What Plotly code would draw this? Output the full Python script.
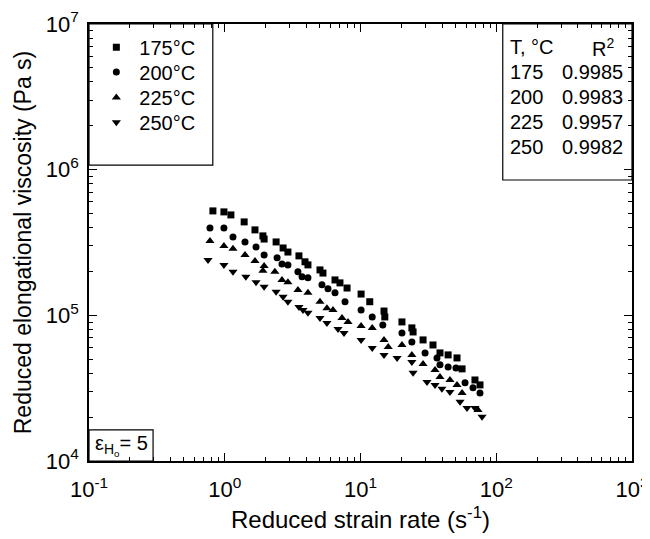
import plotly.graph_objects as go

# ---- data (reduced strain rate [1/s], reduced elongational viscosity [Pa s]) ----
x_175 = [0.818, 0.986, 1.11, 1.39, 1.67, 1.91, 1.95, 2.39, 2.69, 2.92, 3.52, 3.90, 4.10, 5.03, 5.29,
         6.49, 7.06, 7.96, 10.1, 11.7, 14.9, 15.1, 20.2, 23.9, 24.4, 28.9, 34.2, 38.5, 44.2, 51.4,
         56.0, 69.7, 75.9]
y_175 = [5.21e5, 5.13e5, 4.89e5, 4.38e5, 3.86e5, 3.51e5, 3.34e5, 3.19e5, 2.90e5, 2.72e5, 2.56e5, 2.33e5,
         2.22e5, 2.05e5, 1.95e5, 1.75e5, 1.67e5, 1.54e5, 1.40e5, 1.24e5, 1.07e5, 9.75e4, 9.01e4, 8.20e4,
         7.69e4, 6.78e4, 6.26e4, 5.52e4, 5.35e4, 5.10e4, 4.29e4, 3.60e4, 3.33e4]

x_200 = [0.778, 0.986, 1.15, 1.41, 1.70, 1.95, 2.43, 2.64, 2.92, 3.46, 3.71, 4.10, 5.20, 5.76, 6.49,
         7.69, 10.1, 12.2, 14.6, 20.2, 23.9, 29.9, 36.6, 38.5, 44.2, 50.5, 58.9, 67.4, 75.9]
y_200 = [3.98e5, 3.98e5, 3.45e5, 3.19e5, 2.95e5, 2.60e5, 2.48e5, 2.25e5, 2.22e5, 1.99e5, 1.84e5, 1.81e5,
         1.62e5, 1.52e5, 1.43e5, 1.24e5, 1.09e5, 9.75e4, 8.59e4, 7.57e4, 6.56e4, 5.52e4, 5.10e4, 4.57e4,
         4.42e4, 4.35e4, 3.44e4, 3.18e4, 2.93e4]

x_225 = [0.778, 0.986, 1.15, 1.41, 1.67, 1.95, 1.91, 2.34, 2.64, 2.92, 3.46, 4.10, 5.03, 5.66, 6.27,
         7.31, 8.09, 10.1, 12.2, 14.9, 16.0, 20.2, 23.9, 28.9, 35.4, 38.5, 45.6, 51.4, 56.0, 73.4]
y_225 = [3.24e5, 2.99e5, 2.86e5, 2.60e5, 2.36e5, 2.18e5, 2.02e5, 1.99e5, 1.75e5, 1.69e5, 1.49e5, 1.43e5,
         1.24e5, 1.12e5, 1.09e5, 9.60e4, 9.01e4, 8.45e4, 8.20e4, 6.78e4, 6.07e4, 6.26e4, 5.35e4, 4.63e4,
         4.22e4, 3.78e4, 3.60e4, 3.33e4, 2.93e4, 2.24e4]

x_250 = [0.753, 0.986, 1.15, 1.43, 1.70, 1.95, 2.39, 2.69, 2.92, 3.52, 3.77, 4.10, 5.03, 5.66, 6.83,
         7.56, 10.1, 12.2, 14.9, 18.6, 23.9, 24.4, 30.9, 35.4, 39.8, 45.6, 54.1, 60.9, 69.7, 78.6]
y_250 = [2.40e5, 2.22e5, 1.99e5, 1.84e5, 1.69e5, 1.57e5, 1.45e5, 1.34e5, 1.24e5, 1.14e5, 1.09e5, 1.04e5,
         9.60e4, 8.87e4, 8.07e4, 7.57e4, 6.78e4, 5.97e4, 5.35e4, 5.10e4, 4.79e4, 4.03e4, 3.49e4, 3.33e4,
         3.13e4, 2.98e4, 2.55e4, 2.31e4, 2.31e4, 2.01e4]

series_names = ["175°C", "200°C", "225°C", "250°C"]
table_T = ["175", "200", "225", "250"]
table_R2 = ["0.9985", "0.9983", "0.9957", "0.9982"]

x_tickvals = [0.1, 1, 10, 100, 1000]
x_ticktext = ["10<sup>-1</sup>", "10<sup>0</sup>", "10<sup>1</sup>", "10<sup>2</sup>", "10<sup>3</sup>"]
y_tickvals = [1e4, 1e5, 1e6, 1e7]
y_ticktext = ["10<sup>4</sup>", "10<sup>5</sup>", "10<sup>6</sup>", "10<sup>7</sup>"]

x_minor = [m * d for d in x_tickvals[:-1] for m in range(2, 10)]
y_minor = [m * d for d in y_tickvals[:-1] for m in range(2, 10)]

FONT = "Arial, Liberation Sans, sans-serif"
FS = 20

fig = go.Figure()
symbols = ["square", "circle", "triangle-up", "triangle-down"]
sizes = [7, 7, 8, 8]
legend_ids = ["legend", "legend2", "legend3", "legend4"]
legend_rows = [0.947, 0.890, 0.832, 0.775]
for name, xs, ys, sym, sz, lid in zip(series_names, [x_175, x_200, x_225, x_250],
                                      [y_175, y_200, y_225, y_250], symbols, sizes, legend_ids):
    fig.add_trace(go.Scatter(x=xs, y=ys, mode="markers", name=name, legend=lid,
                             marker=dict(symbol=sym, size=sz, color="black", line=dict(width=0))))

axis_common = dict(
    type="log", showgrid=False, zeroline=False, automargin=False,
    showline=True, linecolor="black", linewidth=1.5, mirror="ticks",
    ticks="inside", ticklen=8, tickwidth=1, tickcolor="black",
    tickfont=dict(family=FONT, size=22, color="black"),
)

fig.update_xaxes(range=[-1, 3], tickmode="array", tickvals=x_tickvals, ticktext=x_ticktext,
                 ticklabelstandoff=8,
                 minor=dict(tickmode="array", tickvals=x_minor, ticks="inside", ticklen=4,
                            tickcolor="black", tickwidth=1, showgrid=False),
                 title=dict(text="Reduced strain rate (s<sup>-1</sup>)",
                            font=dict(family=FONT, size=24, color="black"), standoff=10),
                 **axis_common)
fig.update_yaxes(range=[4, 7], tickmode="array", tickvals=y_tickvals, ticktext=y_ticktext,
                 ticklabelstandoff=4,
                 minor=dict(tickmode="array", tickvals=y_minor, ticks="inside", ticklen=4,
                            tickcolor="black", tickwidth=1, showgrid=False),
                 title=dict(text="Reduced elongational viscosity (Pa s)",
                            font=dict(family=FONT, size=23, color="black"), standoff=8),
                 **axis_common)

# boxes
fig.add_shape(type="rect", xref="paper", yref="paper", x0=0, x1=0.228, y0=0.677, y1=1,
              line=dict(color="black", width=1.2))
fig.add_shape(type="rect", xref="paper", yref="paper", x0=0.762, x1=1, y0=0.643, y1=1,
              line=dict(color="black", width=1.2))
fig.add_shape(type="rect", xref="paper", yref="paper", x0=0, x1=0.118, y0=0, y1=0.071,
              line=dict(color="black", width=1.2))

# table annotations
row_y = [0.947, 0.890, 0.833, 0.776, 0.719]
tfont = dict(family=FONT, size=FS, color="black")
fig.add_annotation(xref="paper", yref="paper", x=0.772, y=row_y[0], text="T, °C",
                   showarrow=False, xanchor="left", yanchor="middle", font=tfont)
fig.add_annotation(xref="paper", yref="paper", x=0.947, y=row_y[0], text="R<sup>2</sup>",
                   showarrow=False, xanchor="center", yanchor="middle", font=tfont)
for t, r, yy in zip(table_T, table_R2, row_y[1:]):
    fig.add_annotation(xref="paper", yref="paper", x=0.772, y=yy, text=t,
                       showarrow=False, xanchor="left", yanchor="middle", font=tfont)
    fig.add_annotation(xref="paper", yref="paper", x=0.988, y=yy, text=r,
                       showarrow=False, xanchor="right", yanchor="middle", font=tfont)

fig.add_annotation(xref="paper", yref="paper", x=0.06, y=0.036,
                   text="ε<sub>H<sub>o</sub></sub>= 5",
                   showarrow=False, xanchor="center", yanchor="middle", font=tfont)

legend_common = dict(xanchor="left", yanchor="middle", bgcolor="rgba(0,0,0,0)", borderwidth=0,
                     font=dict(family=FONT, size=FS, color="black"), itemsizing="trace",
                     itemwidth=36)
layout_legends = {lid: dict(x=0.008, y=ly, **legend_common) for lid, ly in zip(legend_ids, legend_rows)}

fig.update_layout(
    width=650, height=539,
    margin=dict(l=81, r=26, t=16, b=86, autoexpand=False),
    paper_bgcolor="white", plot_bgcolor="white",
    font=dict(family=FONT, size=FS, color="black"),
    showlegend=True,
    **layout_legends,
)

fig.write_html("out.html")
